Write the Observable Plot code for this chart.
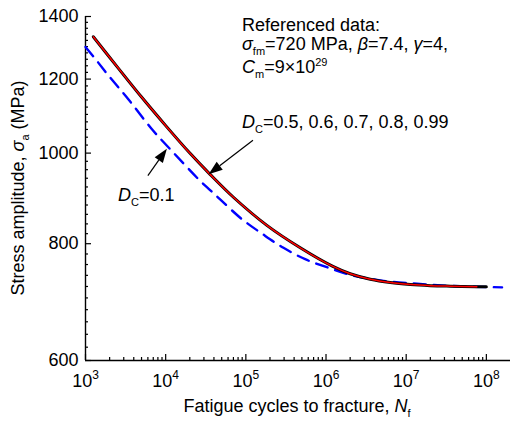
<!DOCTYPE html>
<html><head><meta charset="utf-8">
<script src="https://cdn.jsdelivr.net/npm/d3@7"></script>
<script src="https://cdn.jsdelivr.net/npm/@observablehq/plot@0.6"></script>
<style>
body{margin:0;background:#fff;}
#chart svg{display:block;}
</style></head><body><div id="chart"></div>
<script>
// ---- data ----
// D_C = 0.1 (blue dashed)
const blueN = [1000, 1251, 2022, 3422, 6706, 11345, 26880, 35800, 50100, 89100, 166000, 294600, 549500, 1.026e6, 2.0e6, 5.22e6, 1.365e7, 3.55e7, 1.57e8];
const blueS = [1299, 1269, 1205, 1142, 1061, 1010, 934, 913, 889, 850, 818, 792, 770, 755, 741, 730, 725, 721, 718.5];
// D_C = 0.5 ... 0.99 (red, with the overlapping dark curves)
const redN = [1251, 2500, 5000, 10000, 20000, 35800, 69960, 182800, 477600, 1.2e6, 2.0e6, 3.56e6, 6.32e6, 1.124e7, 2.0e7, 3.55e7, 7.6e7];
const redS = [1332, 1236, 1148, 1070, 1000, 949, 897, 837, 792, 757, 743, 733, 727, 723.5, 721.5, 720.5, 719.6];
const darkN = [...redN, 1e8];
const darkS = [...redS, 719.3];

const xMajor = [1e3, 1e4, 1e5, 1e6, 1e7, 1e8];
const xExponents = ["3", "4", "5", "6", "7", "8"];
const yMajor = [600, 800, 1000, 1200, 1400];
const yMinor = d3.range(620, 1400, 20).filter(v => v % 200 !== 0);
const xMinor = [];
for (let e = 3; e < 8; e++) for (let k = 2; k <= 9; k++) xMinor.push(k * 10 ** e);

// annotation arrows (tail -> tip), in data units
const arrowTailN = [6085, 124500];
const arrowTailS = [945, 1031];
const arrowTipN = [10500, 34800];
const arrowTipS = [1009.5, 948];

const blue = blueN.map((n, i) => ({n, s: blueS[i]}));
const red = redN.map((n, i) => ({n, s: redS[i]}));
const dark = darkN.map((n, i) => ({n, s: darkS[i]}));

const FONT = "'Liberation Sans', Arial, Helvetica, sans-serif";
const FS = 18;

const plot = Plot.plot({
  width: 510, height: 421,
  marginLeft: 85, marginRight: 0, marginTop: 16, marginBottom: 61,
  style: {fontFamily: FONT, background: "white", color: "black", fontSize: FS + "px", overflow: "visible"},
  x: {type: "log", domain: [1e3, 2e8]},
  y: {type: "log", domain: [600, 1400]},
  marks: [
    Plot.axisX(xMinor, {tickSize: -3, tickFormat: () => "", label: null, strokeWidth: 1.2}),
    Plot.axisX(xMajor, {tickSize: -6, tickFormat: () => "", label: null, strokeWidth: 1.2}),
    Plot.axisX(xMajor, {tickSize: 0, tickPadding: 14, fontSize: FS, tickFormat: d => "10^" + xExponents[xMajor.indexOf(d)], label: null}),
    Plot.axisY(yMinor, {tickSize: -3, tickFormat: () => "", label: null, strokeWidth: 1.2}),
    Plot.axisY(yMajor, {tickSize: -6, tickFormat: () => "", label: null, strokeWidth: 1.2}),
    Plot.axisY(yMajor, {tickSize: 0, tickPadding: 7, fontSize: FS, tickFormat: d => String(d), label: null}),
    Plot.ruleX([1e3], {strokeWidth: 1.4}),
    Plot.ruleY([600], {strokeWidth: 1.4}),
    Plot.line(blue, {x: "n", y: "s", stroke: "#0000ff", strokeWidth: 2.4, strokeDasharray: "12,8", curve: "catmull-rom"}),
    Plot.line(dark, {x: "n", y: "s", stroke: "black", strokeWidth: 3, curve: "catmull-rom"}),
    Plot.line(red, {x: "n", y: "s", stroke: "#ff0000", strokeWidth: 1.5, curve: "catmull-rom"})
  ]
});
document.getElementById("chart").appendChild(plot);

const svg = d3.select(plot);
// superscripts on x tick labels
svg.selectAll("text").each(function() {
  const t = this.textContent;
  if (t.startsWith("10^")) {
    const el = d3.select(this);
    el.text("10");
    el.append("tspan").attr("font-size", 12).attr("dy", -8).text(t.slice(3));
  }
});

const sx = plot.scale("x"), sy = plot.scale("y");
const g = svg.append("g").attr("font-family", FONT).attr("fill", "black");

function rich(x, y, parts, opts = {}) {
  const t = g.append("text").attr("x", x).attr("y", y).attr("font-size", opts.size || FS)
    .attr("text-anchor", opts.anchor || "start");
  if (opts.transform) t.attr("transform", opts.transform).attr("x", 0).attr("y", 0);
  let shift = 0;
  for (const p of parts) {
    const [s, st] = typeof p === "string" ? [p, ""] : p;
    const ts = t.append("tspan").text(s);
    let target = 0;
    if (st.includes("sub")) { ts.attr("font-size", 11); target = 5; }
    if (st.includes("sup")) { ts.attr("font-size", 11); target = -7; }
    if (st.includes("i")) ts.attr("font-style", "italic");
    if (target !== shift) { ts.attr("dy", target - shift); shift = target; }
  }
  return t;
}

rich(242, 31, ["Referenced data:"]);
rich(242, 50, [["σ", "i"], ["fm", "sub"], "=720 MPa, ", ["β", "i"], "=7.4, ", ["γ", "i"], "=4,"]);
rich(242, 73, [["C", "i"], ["m", "sub"], "=9×10", ["29", "sup"]]);
rich(242, 128, [["D", "i"], ["C", "sub"], "=0.5, 0.6, 0.7, 0.8, 0.99"]);
rich(118, 201, [["D", "i"], ["C", "sub"], "=0.1"]);
rich(0, 0, ["Stress amplitude, ", ["σ", "i"], ["a", "sub"], " (MPa)"], {anchor: "middle", transform: "translate(24,188) rotate(-90)"});
rich(297, 412, ["Fatigue cycles to fracture, ", ["N", "i"], ["f", "sub"]], {anchor: "middle"});

// arrows with filled heads
for (let i = 0; i < arrowTailN.length; i++) {
  const x0 = sx.apply(arrowTailN[i]), y0 = sy.apply(arrowTailS[i]);
  const x1 = sx.apply(arrowTipN[i]), y1 = sy.apply(arrowTipS[i]);
  const dx = x1 - x0, dy = y1 - y0, L = Math.hypot(dx, dy);
  const ux = dx / L, uy = dy / L, hl = 14, hw = 5;
  const bx = x1 - ux * hl, by = y1 - uy * hl;
  g.append("line").attr("x1", x0).attr("y1", y0).attr("x2", bx).attr("y2", by)
    .attr("stroke", "black").attr("stroke-width", 1.2);
  g.append("path").attr("d", `M${x1},${y1}L${bx - uy * hw},${by + ux * hw}L${bx + uy * hw},${by - ux * hw}Z`)
    .attr("fill", "black");
}
</script></body></html>
